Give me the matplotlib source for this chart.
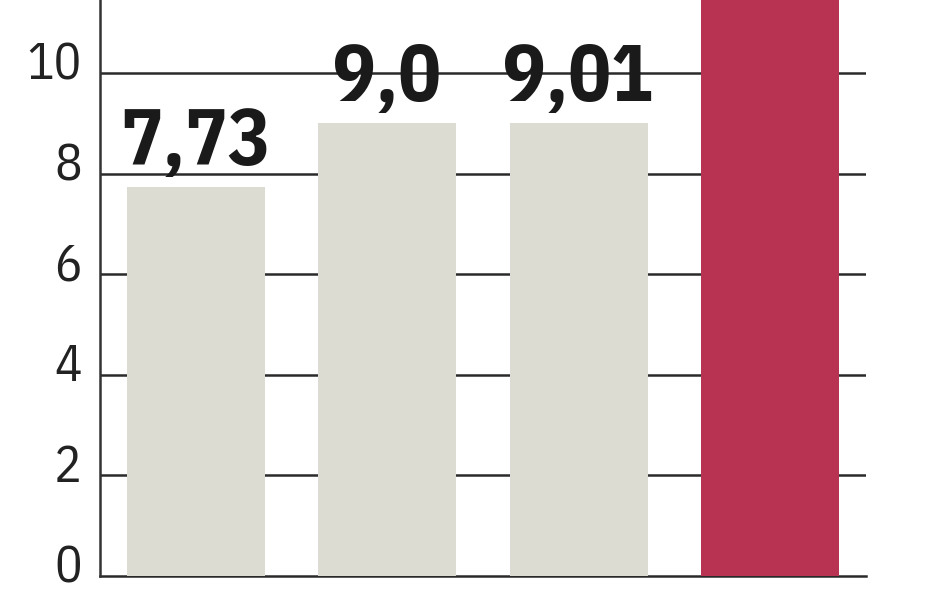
import matplotlib
matplotlib.use("Agg")
import matplotlib.pyplot as plt
from matplotlib.transforms import ScaledTranslation

# data
categories = ["a", "b", "c", "d"]
values = [7.73, 9.0, 9.01, 11.6]
labels = ["7,73", "9,0", "9,01", ""]
colors = ["#dcdcd2", "#dcdcd2", "#dcdcd2", "#b83252"]
yticks = [0, 2, 4, 6, 8, 10]

FONT = ["IBM Plex Sans Condensed", "DejaVu Sans"]

fig = plt.figure(figsize=(9.48, 5.93), dpi=100)
ax = fig.add_axes([100 / 948, 17 / 593, 766 / 948, 576 / 593])

x = list(range(len(categories)))
ax.bar(x, values, width=0.72, color=colors, zorder=2)

ax.set_xlim(-0.5, 3.5)
ax.set_ylim(0, 11.45)
ax.set_yticks(yticks)
ax.set_yticklabels([str(t) for t in yticks], family=FONT, fontsize=37,
                   fontweight="normal", color="#222222")
ax.set_xticks([])
ax.tick_params(axis="y", length=0, pad=13)
shift = ScaledTranslation(0, 9 / 72, fig.dpi_scale_trans)
for lab in ax.get_yticklabels():
    lab.set_transform(lab.get_transform() + shift)

for t in yticks[1:]:
    ax.axhline(t, color="#2a2a2a", lw=1.8, zorder=1)

for xi, v, lab in zip(x, values, labels):
    if lab:
        ax.annotate(lab, (xi, v), xytext=(0, 16), textcoords="offset points",
                    ha="center", va="baseline", fontsize=57,
                    fontweight="bold", family=FONT, color="#1a1a1a",
                    zorder=3)

for side in ("top", "right"):
    ax.spines[side].set_visible(False)
ax.spines["left"].set_linewidth(1.8)
ax.spines["left"].set_color("#333333")
ax.spines["bottom"].set_linewidth(1.8)
ax.spines["bottom"].set_color("#2a2a2a")
ax.spines["bottom"].set_zorder(1)

fig.savefig("out.png", dpi=100)
